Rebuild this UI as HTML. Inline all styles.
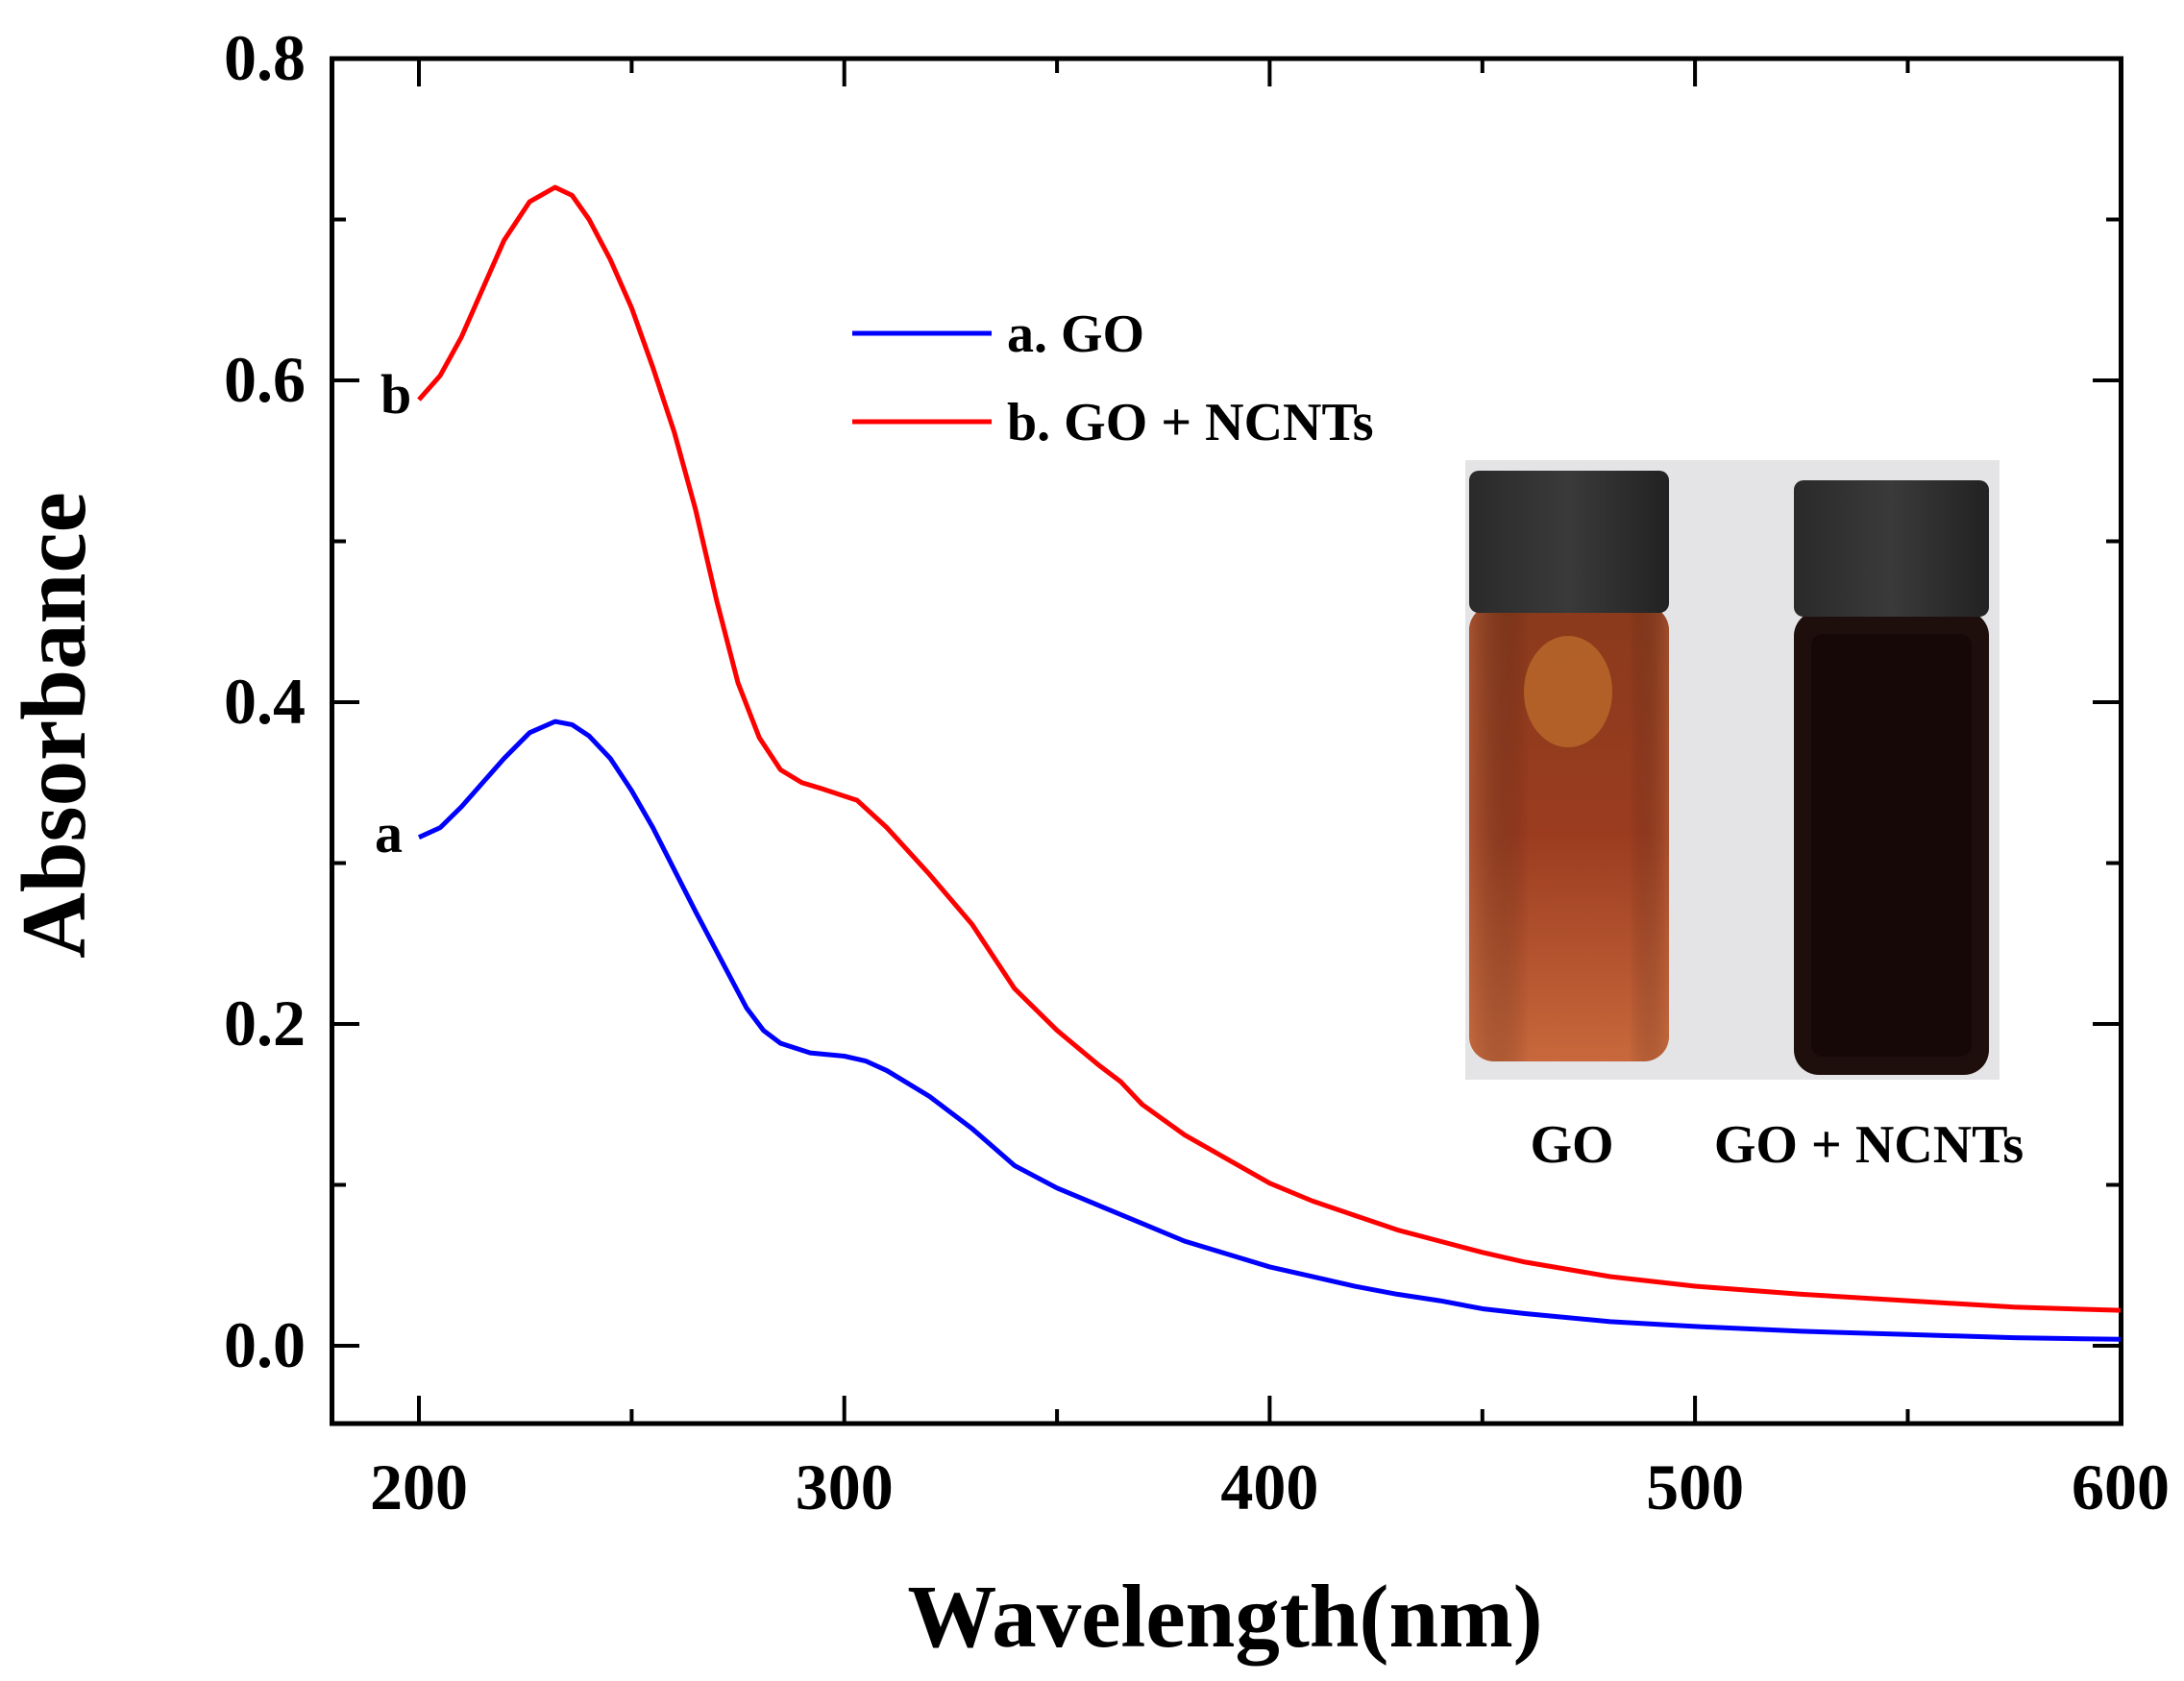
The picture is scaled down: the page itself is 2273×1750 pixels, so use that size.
<!DOCTYPE html>
<html><head><meta charset="utf-8"><style>
html,body{margin:0;padding:0;background:#fff;}
svg{display:block;}
text{font-family:"Liberation Serif",serif;font-weight:bold;fill:#000;}
</style></head><body>
<svg width="2273" height="1750" viewBox="0 0 2273 1750" xmlns="http://www.w3.org/2000/svg">
<defs>
<linearGradient id="go" x1="0" y1="0" x2="0" y2="1">
<stop offset="0" stop-color="#8a3a1c"/><stop offset="0.5" stop-color="#9b3c20"/><stop offset="1" stop-color="#c8683c"/>
</linearGradient>
<linearGradient id="goh" x1="0" y1="0" x2="1" y2="0">
<stop offset="0" stop-color="#c06a40" stop-opacity="0.5"/><stop offset="0.3" stop-color="#000" stop-opacity="0"/><stop offset="0.8" stop-color="#000" stop-opacity="0"/><stop offset="1" stop-color="#c06a40" stop-opacity="0.4"/>
</linearGradient>
<linearGradient id="cap" x1="0" y1="0" x2="1" y2="0">
<stop offset="0" stop-color="#2a2a2a"/><stop offset="0.5" stop-color="#3a3a3a"/><stop offset="1" stop-color="#222"/>
</linearGradient>
</defs>
<!-- photo -->
<rect x="1525" y="479" width="556" height="645" fill="#e4e4e6"/>
<rect x="1529" y="630" width="208" height="475" rx="26" fill="url(#go)"/>
<rect x="1529" y="630" width="208" height="475" rx="26" fill="url(#goh)"/>
<ellipse cx="1632" cy="720" rx="46" ry="58" fill="#c0702c" opacity="0.7"/>
<rect x="1529" y="490" width="208" height="148" rx="10" fill="url(#cap)"/>
<rect x="1867" y="636" width="203" height="483" rx="26" fill="#1e0e0c"/>
<rect x="1885" y="660" width="167" height="440" rx="12" fill="#170808"/>
<rect x="1867" y="500" width="203" height="142" rx="10" fill="url(#cap)"/>
<text x="1636" y="1210" font-size="56" text-anchor="middle">GO</text>
<text x="1945" y="1210" font-size="56" text-anchor="middle">GO + NCNTs</text>
<!-- frame -->
<rect x="345.5" y="61" width="1862" height="1421" fill="none" stroke="#000" stroke-width="5"/>
<g stroke="#000" stroke-width="4">
<path d="M436 1482v-29M878.7 1482v-29M1321.4 1482v-29M1764.1 1482v-29M436 61v29M878.7 61v29M1321.4 61v29M1764.1 61v29"/>
<path d="M657.4 1482v-15M1100.1 1482v-15M1542.8 1482v-15M1985.5 1482v-15M657.4 61v15M1100.1 61v15M1542.8 61v15M1985.5 61v15"/>
<path d="M345 1401h29M345 1066h29M345 731h29M345 396h29M2207 1401h-29M2207 1066h-29M2207 731h-29M2207 396h-29"/>
<path d="M345 1233.5h15M345 898.5h15M345 563.5h15M345 228.5h15M2207 1233.5h-15M2207 898.5h-15M2207 563.5h-15M2207 228.5h-15"/>
</g>
<g font-size="68" text-anchor="middle">
<text x="436" y="1571">200</text>
<text x="878.7" y="1571">300</text>
<text x="1321.4" y="1571">400</text>
<text x="1764.1" y="1571">500</text>
<text x="2207" y="1571">600</text>
</g>
<g font-size="68" text-anchor="end">
<text x="318" y="1423">0.0</text>
<text x="318" y="1088">0.2</text>
<text x="318" y="753">0.4</text>
<text x="318" y="418">0.6</text>
<text x="318" y="83">0.8</text>
</g>
<text x="1275" y="1714" font-size="93" text-anchor="middle">Wavelength(nm)</text>
<text transform="translate(88,755) rotate(-90)" font-size="95" text-anchor="middle">Absorbance</text>
<g transform="translate(-449.5,1401) scale(4.4275,-1675)" fill="none" stroke-linejoin="round">
<path vector-effect="non-scaling-stroke" stroke="#0000ff" stroke-width="5" d="M200 0.316 L205 0.322 L210 0.335 L215 0.35 L220 0.365 L226 0.381 L232 0.388 L236 0.386 L240 0.379 L245 0.365 L250 0.345 L255 0.322 L260 0.296 L265 0.27 L270 0.245 L274 0.225 L277 0.21 L281 0.196 L285 0.188 L292 0.182 L300 0.18 L305 0.177 L310 0.171 L320 0.155 L330 0.135 L340 0.112 L350 0.098 L360 0.087 L370 0.076 L380 0.065 L390 0.057 L400 0.049 L410 0.043 L420 0.037 L430 0.032 L440 0.028 L450 0.023 L460 0.02 L480 0.015 L500 0.012 L525 0.009 L550 0.007 L575 0.005 L600 0.004"/>
<path vector-effect="non-scaling-stroke" stroke="#ff0000" stroke-width="5" d="M200 0.588 L205 0.603 L210 0.627 L215 0.657 L220 0.687 L226 0.711 L232 0.72 L236 0.715 L240 0.7 L245 0.675 L250 0.645 L255 0.608 L260 0.568 L265 0.52 L270 0.463 L275 0.412 L280 0.378 L285 0.358 L290 0.35 L295 0.346 L303 0.339 L310 0.322 L320 0.293 L330 0.262 L340 0.222 L350 0.196 L360 0.174 L365 0.164 L370 0.15 L380 0.131 L390 0.116 L400 0.101 L410 0.09 L420 0.081 L430 0.072 L440 0.065 L450 0.058 L460 0.052 L480 0.043 L500 0.037 L525 0.032 L550 0.028 L575 0.024 L600 0.022"/>
</g>
<path d="M887 347h145" stroke="#0000ff" stroke-width="5"/>
<path d="M887 439h145" stroke="#ff0000" stroke-width="5"/>
<text x="1048" y="366" font-size="56">a. GO</text>
<text x="1048" y="458" font-size="56">b. GO + NCNTs</text>
<text x="390" y="887" font-size="58">a</text>
<text x="396" y="430" font-size="58">b</text>
</svg>
</body></html>
